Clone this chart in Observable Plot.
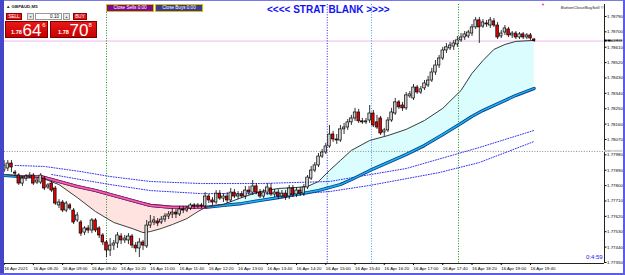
<!DOCTYPE html>
<html><head><meta charset="utf-8">
<script src="https://cdn.jsdelivr.net/npm/d3@7"></script>
<script src="https://cdn.jsdelivr.net/npm/@observablehq/plot@0.6"></script>
<style>
body{margin:0;background:#fff;font-family:"Liberation Sans",Arial,sans-serif;}
#wrap{position:relative;width:625px;height:275px;overflow:hidden;background:#fff;}
.a{position:absolute;box-sizing:border-box;white-space:nowrap;line-height:1;}
.btn{font-size:4.6px;color:#fff;text-align:center;}
</style></head><body>
<div id="wrap"></div>
<script>
// ---- data (GBPAUD, M5, 16 Apr 2021) ----
const xTickBars = [0,8,16,24,32,40,48,56,64,72,80,88,96,104,112,120,128,136,144];
const xTickLabels = ["16 Apr 2021","16 Apr 08:20","16 Apr 09:00","16 Apr 09:40","16 Apr 10:20","16 Apr 11:00","16 Apr 11:40","16 Apr 12:20","16 Apr 13:00","16 Apr 13:40","16 Apr 14:20","16 Apr 15:00","16 Apr 15:40","16 Apr 16:20","16 Apr 17:00","16 Apr 17:40","16 Apr 18:20","16 Apr 19:00","16 Apr 19:40"];
const yTicks = [1.77350,1.77440,1.77530,1.77620,1.77710,1.77800,1.77890,1.77980,1.78070,1.78160,1.78250,1.78340,1.78430,1.78520,1.78610,1.78700,1.78790];

const open = [1.77888,1.77900,1.77929,1.77876,1.77859,1.77812,1.77841,1.77853,1.77859,1.77818,
1.77818,1.77841,1.77789,1.77812,1.77783,1.77684,1.77701,1.77654,1.77684,1.77654,
1.77596,1.77584,1.77525,1.77549,1.77537,1.77596,1.77549,1.77508,1.77467,1.77420,
1.77449,1.77461,1.77502,1.77479,1.77479,1.77502,1.77449,1.77432,1.77467,1.77444,
1.77566,1.77584,1.77590,1.77584,1.77601,1.77619,1.77631,1.77642,1.77631,1.77660,
1.77654,1.77666,1.77684,1.77678,1.77684,1.77678,1.77736,1.77713,1.77701,1.77753,
1.77724,1.77736,1.77713,1.77759,1.77736,1.77748,1.77736,1.77771,1.77759,1.77795,
1.77759,1.77736,1.77759,1.77783,1.77748,1.77759,1.77736,1.77753,1.77736,1.77783,
1.77748,1.77771,1.77753,1.77789,1.77841,1.77888,1.77918,1.77970,1.77994,1.78029,
1.78099,1.78070,1.78064,1.78129,1.78140,1.78170,1.78193,1.78228,1.78176,1.78170,
1.78181,1.78222,1.78170,1.78193,1.78111,1.78123,1.78181,1.78222,1.78287,1.78269,
1.78252,1.78322,1.78310,1.78374,1.78345,1.78369,1.78386,1.78415,1.78462,1.78503,
1.78544,1.78591,1.78603,1.78614,1.78626,1.78650,1.78667,1.78673,1.78690,1.78726,
1.78767,1.78731,1.78749,1.78737,1.78761,1.78737,1.78673,1.78696,1.78714,1.78679,
1.78690,1.78667,1.78685,1.78667,1.78679,1.78655];
const high = [1.77947,1.77947,1.77947,1.77888,1.77870,1.77853,1.77865,1.77876,1.77870,1.77841,
1.77870,1.77853,1.77812,1.77824,1.77795,1.77718,1.77713,1.77707,1.77695,1.77666,
1.77642,1.77596,1.77560,1.77566,1.77607,1.77607,1.77560,1.77519,1.77479,1.77490,
1.77479,1.77525,1.77519,1.77508,1.77519,1.77514,1.77467,1.77490,1.77479,1.77596,
1.77625,1.77619,1.77607,1.77619,1.77636,1.77648,1.77666,1.77660,1.77678,1.77678,
1.77678,1.77695,1.77695,1.77695,1.77695,1.77759,1.77748,1.77730,1.77771,1.77771,
1.77753,1.77759,1.77783,1.77777,1.77765,1.77765,1.77795,1.77795,1.77830,1.77812,
1.77777,1.77777,1.77812,1.77812,1.77777,1.77777,1.77771,1.77771,1.77801,1.77801,
1.77789,1.77789,1.77806,1.77859,1.77912,1.77935,1.77988,1.78012,1.78047,1.78152,
1.78117,1.78099,1.78152,1.78164,1.78187,1.78211,1.78252,1.78246,1.78193,1.78193,
1.78269,1.78240,1.78211,1.78205,1.78135,1.78199,1.78252,1.78310,1.78298,1.78287,
1.78345,1.78351,1.78392,1.78386,1.78380,1.78415,1.78439,1.78486,1.78532,1.78562,
1.78609,1.78632,1.78638,1.78650,1.78673,1.78690,1.78702,1.78708,1.78743,1.78784,
1.78784,1.78772,1.78767,1.78784,1.78778,1.78755,1.78708,1.78737,1.78726,1.78702,
1.78702,1.78696,1.78696,1.78690,1.78690,1.78661];
const low = [1.77876,1.77882,1.77876,1.77853,1.77801,1.77795,1.77824,1.77841,1.77801,1.77806,
1.77806,1.77771,1.77777,1.77759,1.77684,1.77666,1.77642,1.77642,1.77654,1.77572,
1.77584,1.77502,1.77508,1.77519,1.77519,1.77525,1.77490,1.77449,1.77379,1.77385,
1.77420,1.77432,1.77455,1.77461,1.77455,1.77432,1.77408,1.77379,1.77420,1.77432,
1.77549,1.77566,1.77560,1.77572,1.77584,1.77601,1.77607,1.77607,1.77619,1.77636,
1.77642,1.77654,1.77660,1.77666,1.77666,1.77666,1.77695,1.77684,1.77690,1.77713,
1.77701,1.77695,1.77701,1.77724,1.77718,1.77724,1.77718,1.77742,1.77742,1.77748,
1.77724,1.77724,1.77742,1.77736,1.77730,1.77718,1.77724,1.77713,1.77718,1.77730,
1.77730,1.77736,1.77736,1.77777,1.77830,1.77876,1.77906,1.77959,1.77982,1.78018,
1.78053,1.78041,1.78053,1.78099,1.78123,1.78152,1.78176,1.78164,1.78158,1.78158,
1.78164,1.78140,1.78129,1.78093,1.78088,1.78111,1.78170,1.78211,1.78246,1.78234,
1.78240,1.78310,1.78298,1.78334,1.78334,1.78357,1.78374,1.78404,1.78445,1.78486,
1.78532,1.78573,1.78591,1.78591,1.78609,1.78638,1.78650,1.78661,1.78673,1.78714,
1.78632,1.78720,1.78726,1.78720,1.78726,1.78655,1.78661,1.78679,1.78667,1.78661,
1.78655,1.78655,1.78655,1.78655,1.78650,1.78638];
const close = [1.77918,1.77929,1.77906,1.77870,1.77812,1.77841,1.77853,1.77859,1.77812,1.77830,
1.77859,1.77783,1.77801,1.77771,1.77695,1.77701,1.77654,1.77695,1.77666,1.77584,
1.77625,1.77519,1.77549,1.77537,1.77596,1.77537,1.77508,1.77467,1.77420,1.77449,
1.77461,1.77508,1.77479,1.77490,1.77502,1.77449,1.77432,1.77467,1.77449,1.77566,
1.77584,1.77596,1.77578,1.77601,1.77619,1.77631,1.77642,1.77631,1.77660,1.77654,
1.77666,1.77684,1.77678,1.77684,1.77678,1.77736,1.77713,1.77701,1.77753,1.77724,
1.77736,1.77713,1.77759,1.77736,1.77748,1.77736,1.77771,1.77759,1.77795,1.77759,
1.77736,1.77759,1.77789,1.77748,1.77759,1.77736,1.77753,1.77730,1.77783,1.77742,
1.77771,1.77753,1.77789,1.77847,1.77888,1.77918,1.77970,1.77994,1.78029,1.78099,
1.78070,1.78064,1.78129,1.78140,1.78170,1.78193,1.78228,1.78176,1.78170,1.78176,
1.78222,1.78152,1.78140,1.78105,1.78123,1.78181,1.78228,1.78287,1.78258,1.78252,
1.78328,1.78334,1.78374,1.78345,1.78363,1.78398,1.78415,1.78462,1.78503,1.78544,
1.78591,1.78609,1.78620,1.78632,1.78650,1.78667,1.78685,1.78696,1.78726,1.78767,
1.78726,1.78755,1.78743,1.78767,1.78737,1.78667,1.78690,1.78720,1.78679,1.78690,
1.78667,1.78685,1.78667,1.78679,1.78661,1.78646];

const maBars = [0,5,10,15,20,25,30,35,38,40,43,46,50,53,55,60,65,70,75,80,83,86,89,92,95,100,105,110,115,120,125,128,131,134,137,140,145];
const fastMA = [1.77865,1.77853,1.77847,1.77806,1.77730,1.77648,1.77584,1.77549,1.77525,1.77531,1.77549,1.77572,1.77607,1.77648,1.77672,1.77690,1.77730,1.77765,1.77783,1.77789,1.77795,1.77824,1.77888,1.77947,1.78006,1.78064,1.78093,1.78129,1.78181,1.78252,1.78357,1.78457,1.78532,1.78597,1.78626,1.78644,1.78650];
const slowMA = [1.77859,1.77853,1.77853,1.77824,1.77795,1.77771,1.77742,1.77713,1.77695,1.77684,1.77678,1.77672,1.77672,1.77672,1.77672,1.77684,1.77695,1.77713,1.77730,1.77748,1.77759,1.77771,1.77789,1.77806,1.77835,1.77888,1.77935,1.77982,1.78035,1.78099,1.78164,1.78205,1.78240,1.78269,1.78298,1.78328,1.78369];

const upperBars = [3,11,21,29,40,54,70,89,110,130,145];
const upperBand = [1.77918,1.77912,1.77882,1.77853,1.77824,1.77812,1.77812,1.77824,1.77900,1.78023,1.78123];
const lowerBars = [13,21,29,40,54,70,81,89,100,119,130,145];
const lowerBand = [1.77865,1.77835,1.77806,1.77771,1.77753,1.77753,1.77753,1.77765,1.77801,1.77876,1.77935,1.78058];

const bid = 1.78646;
const refLevel = 1.78000;
const vLineBars = [28, 88.4, 100.5, 124.3];

// ---- build ----
const candles = open.map((o, i) => ({i, open: o, high: high[i], low: low[i], close: close[i]}));
const bull = candles.filter(d => d.close > d.open);
const bear = candles.filter(d => d.close < d.open);
const doji = candles.filter(d => d.close === d.open);
const ma = maBars.map((b, k) => ({i: b, fast: fastMA[k], slow: slowMA[k]}));
const pinkRows = ma.filter(d => d.fast <= d.slow);
const upper = upperBars.map((b, k) => ({i: b, v: upperBand[k]}));
const lower = lowerBars.map((b, k) => ({i: b, v: lowerBand[k]}));
const xMin = 0.096, xMax = 164.25, yMin = 1.77344, yMax = 1.78860;
const hw = 0.35;
const dot = "1,1.6";

const chart = Plot.plot({
  width: 625, height: 275,
  marginTop: 4, marginRight: 21, marginBottom: 12, marginLeft: 4,
  x: {domain: [xMin, xMax]},
  y: {domain: [yMin, yMax]},
  style: {background: "transparent", fontFamily: "'Liberation Sans', Arial, sans-serif", fontSize: "4.4px", color: "#000", overflow: "visible"},
  marks: [
    Plot.areaY(ma, {x: "i", y1: "fast", y2: d => Math.max(d.fast, d.slow), fill: "#ffe3e1"}),
    Plot.areaY(ma, {x: "i", y1: "slow", y2: d => Math.max(d.fast, d.slow), fill: "#dcfdfd"}),
    Plot.ruleY([refLevel], {stroke: "#8a8a8a", strokeDasharray: dot}),
    Plot.ruleY([bid], {stroke: "#efb8ef"}),
    Plot.ruleX([vLineBars[0], vLineBars[3]], {stroke: "#1b8f1b", strokeDasharray: dot}),
    Plot.ruleX([vLineBars[1]], {stroke: "#2424e6", strokeDasharray: dot}),
    Plot.ruleX([vLineBars[2]], {stroke: "#3a9cff", strokeDasharray: dot}),
    Plot.line(upper, {x: "i", y: "v", stroke: "#3434f0", strokeDasharray: dot, strokeWidth: 1}),
    Plot.line(lower, {x: "i", y: "v", stroke: "#3434f0", strokeDasharray: dot, strokeWidth: 1}),
    Plot.line(ma, {x: "i", y: "slow", stroke: "#0a3c8c", strokeWidth: 3.2}),
    Plot.line(ma, {x: "i", y: "slow", stroke: "#19b4f0", strokeWidth: 1.5}),
    Plot.line(pinkRows, {x: "i", y: "slow", stroke: "#8c1f62", strokeWidth: 3.2}),
    Plot.line(pinkRows, {x: "i", y: "slow", stroke: "#ff5fb4", strokeWidth: 1.5}),
    Plot.line(ma, {x: "i", y: "fast", stroke: "#3c3c3c", strokeWidth: 1}),
    Plot.ruleX(candles, {x: "i", y1: "low", y2: "high", stroke: "#000", strokeWidth: 0.8}),
    Plot.rect(bull, {x1: d => d.i - hw, x2: d => d.i + hw, y1: "open", y2: "close", fill: "#d2d2d2", stroke: "#000", strokeWidth: 0.7}),
    Plot.rect(bear, {x1: d => d.i - hw, x2: d => d.i + hw, y1: "open", y2: "close", fill: "#e40000", stroke: "#000", strokeWidth: 0.7}),
    Plot.ruleY(doji, {y: "close", x1: d => d.i - hw, x2: d => d.i + hw, stroke: "#000", strokeWidth: 0.8}),
    Plot.ruleX([xMax], {stroke: "#222"}),
    Plot.ruleY([yMin], {stroke: "#222"}),
    Plot.axisY({anchor: "right", ticks: yTicks, tickFormat: d => d.toFixed(5), tickSize: 1.5, tickPadding: 1, label: null}),
    Plot.axisX({anchor: "bottom", ticks: xTickBars, tickFormat: d => xTickLabels[xTickBars.indexOf(d)], tickSize: 2, tickPadding: 1, textAnchor: "start", fontSize: 4.4, label: null}),
    Plot.rect([refLevel], {x1: xMax, x2: xMax + 5.0, y1: d => d - 0.00006, y2: d => d + 0.00006, fill: "#bdbdbd"}),
    Plot.text([refLevel], {x: xMax, y: d => d, text: d => d.toFixed(5), fill: "#fff", textAnchor: "start", dx: 1.5}),
    Plot.rect([bid], {x1: xMax, x2: xMax + 5.0, y1: d => d - 0.00006, y2: d => d + 0.00006, fill: "#000"}),
    Plot.text([bid], {x: xMax, y: d => d, text: d => d.toFixed(5), fill: "#fff", textAnchor: "start", dx: 1.5})
  ]
});
const wrap = document.getElementById("wrap");
chart.style.position = "absolute"; chart.style.left = "0"; chart.style.top = "0";
wrap.appendChild(chart);

const overlay = `
<div class="a" style="left:0;top:0;width:625px;height:1px;background:#7a7ae6"></div>
<div class="a" style="left:0;top:0;width:4px;height:275px;background:#4545c8"></div>
<div class="a" style="right:0;top:0;width:2px;height:275px;background:#5b5bec"></div>
<div class="a" style="left:0;bottom:0;width:625px;height:2px;background:#5b5bec"></div>
<div class="a" style="left:6px;top:4.5px;font-size:4.4px;font-weight:bold;color:#222">&#9650; GBPAUD,M5</div>
<div class="a btn" style="left:6px;top:13px;width:16px;height:7px;background:#e01414;border:0.5px solid #8a0000;padding-top:1.2px">SELL</div>
<div class="a btn" style="left:27px;top:13px;width:7px;height:7px;background:#e6e6e6;border:0.5px solid #999;color:#444;font-size:3px;padding-top:2px">&#9660;</div>
<div class="a" style="left:35px;top:13px;width:27px;height:7px;background:#fff;border:0.5px solid #999;font-size:4.6px;text-align:right;padding:1.2px 2px 0 0;color:#000">0.10</div>
<div class="a btn" style="left:63px;top:13px;width:7px;height:7px;background:#e6e6e6;border:0.5px solid #999;color:#444;font-size:3px;padding-top:2px">&#9650;</div>
<div class="a btn" style="left:73px;top:13px;width:14px;height:7px;background:#e01414;border:0.5px solid #8a0000;padding-top:1.2px">BUY</div>
<div class="a" style="left:5px;top:20.5px;width:43px;height:17px;background:linear-gradient(#e81818,#c80000);border:0.7px solid #7a0000"></div>
<div class="a" style="left:50px;top:20.5px;width:47px;height:17px;background:linear-gradient(#e81818,#c80000);border:0.7px solid #7a0000"></div>
<div class="a" style="left:11px;top:30px;font-size:5.6px;color:#fff;font-weight:bold">1.78</div>
<div class="a" style="left:22.5px;top:21.5px;font-size:17px;color:#fff">64</div>
<div class="a" style="left:42.3px;top:22px;font-size:6px;color:#fff">6</div>
<div class="a" style="left:58px;top:30px;font-size:5.6px;color:#fff;font-weight:bold">1.78</div>
<div class="a" style="left:69.5px;top:21.5px;font-size:17px;color:#fff">70</div>
<div class="a" style="left:88.5px;top:22px;font-size:6px;color:#fff">8</div>
<div class="a btn" style="left:106px;top:4px;width:48px;height:7.5px;background:#7d0b96;border:0.5px solid #d0c000;padding-top:1.4px">Close Sells 0.00</div>
<div class="a btn" style="left:155px;top:4px;width:48px;height:7.5px;background:#3d3d8f;border:0.6px solid #d4c200;padding-top:1.4px">Close Buys 0.00</div>
<div class="a" style="left:267px;top:5px;font-size:10px;font-weight:bold;color:#1212f4">&lt;&lt;&lt;&lt; STRAT BLANK &gt;&gt;&gt;&gt;</div>
<div class="a" style="left:541px;top:2.5px;font-size:4px;color:#d21fd2">&#9660;</div>
<div class="a" style="right:21px;top:5.8px;font-size:4.4px;color:#222">ButtonCloseBuySell &#169;</div>
<div class="a" style="left:586px;top:254px;font-size:6px;color:#1616f0">0:4:59</div>
`;
wrap.insertAdjacentHTML("beforeend", overlay);
</script>
</body></html>
